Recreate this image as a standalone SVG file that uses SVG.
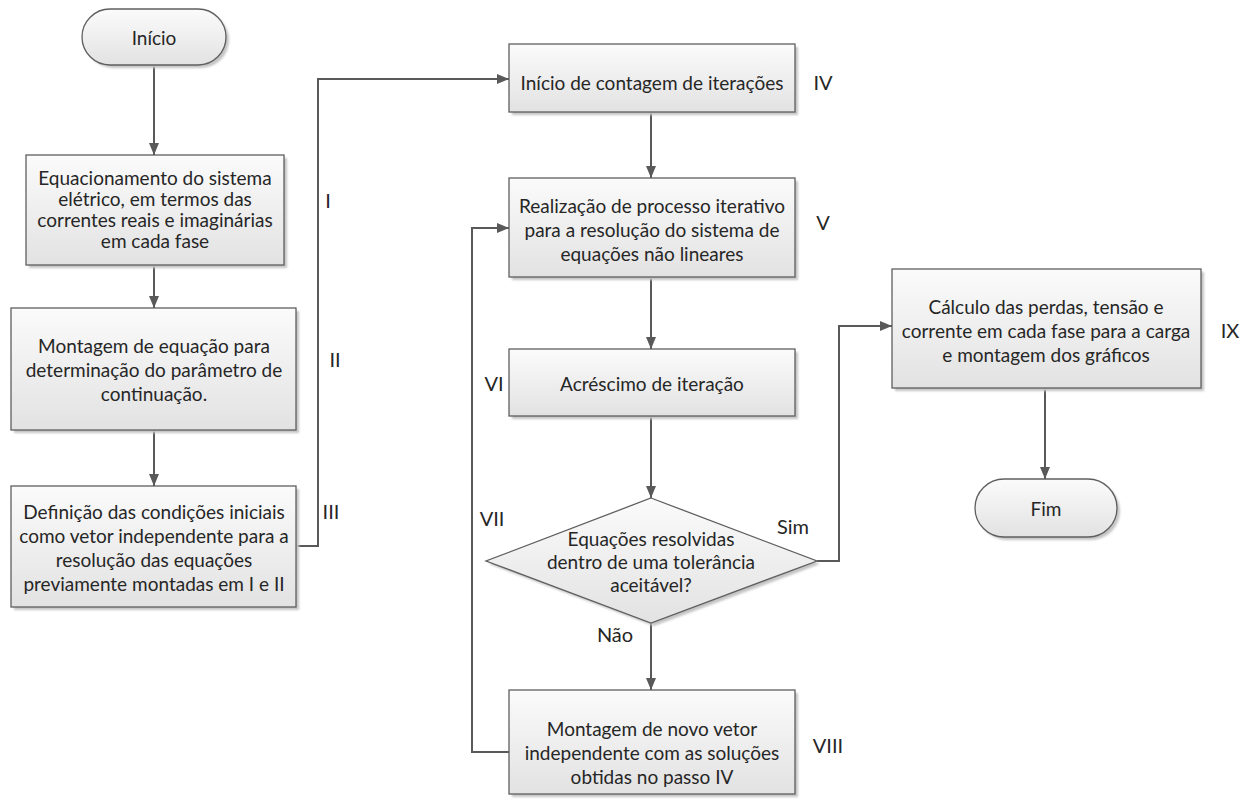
<svg xmlns="http://www.w3.org/2000/svg" width="1250" height="812" viewBox="0 0 1250 812">
<defs>
<linearGradient id="g" x1="0" y1="0" x2="0" y2="1">
<stop offset="0" stop-color="#fbfbfb"/>
<stop offset="1" stop-color="#e2e2e2"/>
</linearGradient>
<filter id="sh" x="-10%" y="-10%" width="130%" height="130%">
<feGaussianBlur stdDeviation="1.2"/>
</filter>
<marker id="ah" viewBox="0 0 12 10" refX="12" refY="5" markerWidth="12" markerHeight="10" markerUnits="userSpaceOnUse" orient="auto">
<path d="M0,0 L12,5 L0,10 z" fill="#595959"/>
</marker>
<style>
.shape{fill:url(#g);stroke:#5f5f5f;stroke-width:1.3}
.shadow{fill:#c4c4c4;filter:url(#sh)}
text{font-family:Lato,"Liberation Sans",sans-serif;font-size:19px;fill:#262626;text-anchor:middle;dominant-baseline:central}
.lbl{font-size:20px}
.con{fill:none;stroke:#595959;stroke-width:2;marker-end:url(#ah)}
</style>
</defs>

<g id="connectors">
<path class="con" d="M154,65 V155"/>
<path class="con" d="M154,265 V308"/>
<path class="con" d="M154,430 V486"/>
<path class="con" d="M296,546 H318 V79 H509"/>
<path class="con" d="M651,112 V178"/>
<path class="con" d="M651,277 V349"/>
<path class="con" d="M651,416 V498"/>
<path class="con" d="M651,623 V690"/>
<path class="con" d="M509,752 H472 V228 H509"/>
<path class="con" d="M817,561 H839 V326 H892"/>
<path class="con" d="M1045,388 V479"/>
</g>

<g id="inicio">
<rect class="shadow" x="85" y="12" width="144" height="56" rx="28"/>
<rect class="shape" x="82" y="9" width="144" height="56" rx="28"/>
<text x="154" y="37">Início</text>
</g>

<g id="step1">
<rect class="shadow" x="29" y="158" width="258" height="110"/>
<rect class="shape" x="26" y="155" width="258" height="110"/>
<text x="155" y="177">Equacionamento do sistema</text>
<text x="155" y="198">elétrico, em termos das</text>
<text x="155" y="219">correntes reais e imaginárias</text>
<text x="155" y="240">em cada fase</text>
</g>

<g id="step2">
<rect class="shadow" x="14" y="311" width="285" height="122"/>
<rect class="shape" x="11" y="308" width="285" height="122"/>
<text x="154" y="345">Montagem de equação para</text>
<text x="154" y="369">determinação do parâmetro de</text>
<text x="154" y="393">continuação.</text>
</g>

<g id="step3">
<rect class="shadow" x="14" y="489" width="285" height="121"/>
<rect class="shape" x="11" y="486" width="285" height="121"/>
<text x="154" y="511">Definição das condições iniciais</text>
<text x="154" y="535">como vetor independente para a</text>
<text x="154" y="559">resolução das equações</text>
<text x="154" y="583">previamente montadas em I e II</text>
</g>

<g id="step4">
<rect class="shadow" x="512" y="47" width="286" height="68"/>
<rect class="shape" x="509" y="44" width="286" height="68"/>
<text x="652" y="82">Início de contagem de iterações</text>
</g>

<g id="step5">
<rect class="shadow" x="512" y="181" width="286" height="99"/>
<rect class="shape" x="509" y="178" width="286" height="99"/>
<text x="652" y="205">Realização de processo iterativo</text>
<text x="652" y="229">para a resolução do sistema de</text>
<text x="652" y="253">equações não lineares</text>
</g>

<g id="step6">
<rect class="shadow" x="512" y="352" width="286" height="67"/>
<rect class="shape" x="509" y="349" width="286" height="67"/>
<text x="652" y="383">Acréscimo de iteração</text>
</g>

<g id="decision">
<polygon class="shadow" points="654,501 820,564 654,626 489,564"/>
<polygon class="shape" points="651,498 817,561 651,623 486,561"/>
<text x="651" y="538">Equações resolvidas</text>
<text x="651" y="561">dentro de uma tolerância</text>
<text x="651" y="584">aceitável?</text>
</g>

<g id="step8">
<rect class="shadow" x="512" y="693" width="286" height="104"/>
<rect class="shape" x="509" y="690" width="286" height="104"/>
<text x="652" y="728">Montagem de novo vetor</text>
<text x="652" y="752">independente com as soluções</text>
<text x="652" y="776">obtidas no passo IV</text>
</g>

<g id="step9">
<rect class="shadow" x="895" y="272" width="309" height="119"/>
<rect class="shape" x="892" y="269" width="309" height="119"/>
<text x="1046" y="306">Cálculo das perdas, tensão e</text>
<text x="1046" y="330">corrente em cada fase para a carga</text>
<text x="1046" y="354">e montagem dos gráficos</text>
</g>

<g id="fim">
<rect class="shadow" x="978" y="482" width="142" height="58" rx="29"/>
<rect class="shape" x="975" y="479" width="142" height="58" rx="29"/>
<text x="1046" y="508">Fim</text>
</g>

<g id="labels">
<text class="lbl" x="328" y="200">I</text>
<text class="lbl" x="335" y="359">II</text>
<text class="lbl" x="331" y="511">III</text>
<text class="lbl" x="823" y="82">IV</text>
<text class="lbl" x="823" y="222">V</text>
<text class="lbl" x="494" y="383">VI</text>
<text class="lbl" x="492" y="518">VII</text>
<text class="lbl" x="828" y="745">VIII</text>
<text class="lbl" x="1230" y="330">IX</text>
<text class="lbl" x="793" y="526">Sim</text>
<text class="lbl" x="615" y="634">Não</text>
</g>
</svg>
